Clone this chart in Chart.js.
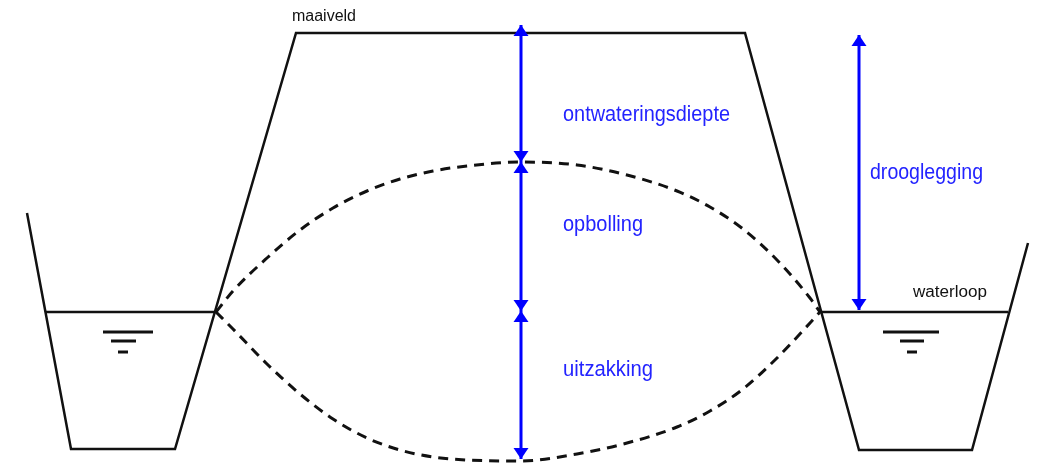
<!DOCTYPE html>
<html lang="nl">
<head>
    <meta charset="UTF-8">
    <title>Ontwateringsdiepte en drooglegging</title>
    <style>
        body { margin: 0; background: #fff; }
        #diagram { display: block; }
    </style>
    <script src="https://cdn.jsdelivr.net/npm/chart.js@4/dist/chart.umd.min.js"></script>
</head>
<body>
    <canvas id="diagram" width="1040" height="464"></canvas>
    <script>
        // profiel: sloot links, maaiveld, sloot rechts (x = afstand, y = diepte)
        const profielX = [27, 71, 175, 296, 745, 859, 972, 1028];
        const profielY = [213, 449, 449, 33, 33, 450, 450, 243];

        // waterpeil in beide sloten
        const peilLinksX = [45, 215];
        const peilRechtsX = [820, 1008];
        const peilY = 312;

        // peilsymbool (drie streepjes onder het peil)
        const symboolLinksX = [[103, 153], [111, 136], [118, 128]];
        const symboolRechtsX = [[883, 939], [900, 924], [907, 917]];
        const symboolY = [332, 341, 352];

        // grondwaterstand: opbolling (boven) en uitzakking (onder)
        const opbollingX = [216, 233, 267, 300, 333, 367, 400, 433, 467, 520, 577, 627, 677, 710, 743, 777, 810, 820];
        const opbollingY = [312, 291, 258, 230, 208, 191, 179, 171, 166, 162, 165, 175, 191, 207, 229, 260, 298, 312];
        const uitzakkingX = [216, 233, 267, 300, 333, 367, 400, 433, 467, 520, 577, 627, 677, 710, 743, 777, 810, 820];
        const uitzakkingY = [312, 329, 364, 394, 419, 438, 450, 457, 460, 461, 454, 443, 427, 411, 389, 358, 323, 312];

        // maatpijlen
        const pijlX = [521, 521, 521, 859];
        const pijlBoven = [25, 162, 311, 35];
        const pijlOnder = [162, 311, 459, 310];

        // teksten
        const labels = [
            { tekst: 'maaiveld', x: 292, y: 17, breedte: 64, size: 16, kleur: '#111' },
            { tekst: 'ontwateringsdiepte', x: 563, y: 115, breedte: 167, size: 22, kleur: '#2323ff' },
            { tekst: 'opbolling', x: 563, y: 225, breedte: 80, size: 22, kleur: '#2323ff' },
            { tekst: 'uitzakking', x: 563, y: 370, breedte: 90, size: 22, kleur: '#2323ff' },
            { tekst: 'drooglegging', x: 870, y: 173, breedte: 113, size: 22, kleur: '#2323ff' },
            { tekst: 'waterloop', x: 913, y: 293, breedte: 74, size: 16, kleur: '#111' }
        ];

        function punten(xs, ys) {
            return xs.map((x, i) => ({ x: x, y: Array.isArray(ys) ? ys[i] : ys }));
        }

        function lijn(data, extra) {
            return Object.assign({
                data: data,
                showLine: true,
                borderColor: '#111',
                borderWidth: 2.5,
                pointRadius: 0,
                fill: false
            }, extra || {});
        }

        const datasets = [];
        datasets.push(lijn(punten(profielX, profielY), { borderJoinStyle: 'miter' }));
        datasets.push(lijn(punten(peilLinksX, peilY)));
        datasets.push(lijn(punten(peilRechtsX, peilY)));
        symboolLinksX.forEach((xs, i) => datasets.push(lijn(punten(xs, symboolY[i]), { borderWidth: 3 })));
        symboolRechtsX.forEach((xs, i) => datasets.push(lijn(punten(xs, symboolY[i]), { borderWidth: 3 })));
        datasets.push(lijn(punten(opbollingX, opbollingY), { borderDash: [10, 7], borderWidth: 3, tension: 0.4, cubicInterpolationMode: 'monotone' }));
        datasets.push(lijn(punten(uitzakkingX, uitzakkingY), { borderDash: [10, 7], borderWidth: 3, tension: 0.4, cubicInterpolationMode: 'monotone' }));
        pijlX.forEach((x, i) => {
            datasets.push(lijn([{ x: x, y: pijlBoven[i] }, { x: x, y: pijlOnder[i] }], { borderColor: '#0000ff', borderWidth: 3, pijlpunten: true }));
        });

        const tekenPlugin = {
            id: 'tekenPlugin',
            afterDatasetsDraw(chart) {
                const ctx = chart.ctx;
                const sx = chart.scales.x, sy = chart.scales.y;

                function punt(tip, van) {
                    const tx = sx.getPixelForValue(tip.x), ty = sy.getPixelForValue(tip.y);
                    const fx = sx.getPixelForValue(van.x), fy = sy.getPixelForValue(van.y);
                    const len = Math.hypot(tx - fx, ty - fy) || 1;
                    const ux = (tx - fx) / len, uy = (ty - fy) / len;
                    const lang = 11, half = 7.5;
                    ctx.beginPath();
                    ctx.moveTo(tx, ty);
                    ctx.lineTo(tx - ux * lang - uy * half, ty - uy * lang + ux * half);
                    ctx.lineTo(tx - ux * lang + uy * half, ty - uy * lang - ux * half);
                    ctx.closePath();
                    ctx.fill();
                }

                ctx.save();
                chart.data.datasets.forEach(ds => {
                    if (!ds.pijlpunten) return;
                    ctx.fillStyle = ds.borderColor;
                    const d = ds.data;
                    punt(d[0], d[1]);
                    punt(d[d.length - 1], d[d.length - 2]);
                });

                labels.forEach(l => {
                    ctx.font = l.size + 'px "Liberation Sans", Arial, sans-serif';
                    ctx.fillStyle = l.kleur;
                    ctx.textBaseline = 'middle';
                    ctx.textAlign = 'left';
                    const w = ctx.measureText(l.tekst).width;
                    ctx.save();
                    ctx.translate(sx.getPixelForValue(l.x), sy.getPixelForValue(l.y));
                    ctx.scale(l.breedte / w, 1);
                    ctx.fillText(l.tekst, 0, 0);
                    ctx.restore();
                });
                ctx.restore();
            }
        };

        new Chart('diagram', {
            type: 'scatter',
            data: { datasets: datasets },
            options: {
                responsive: false,
                animation: false,
                layout: { padding: 0 },
                plugins: { legend: { display: false }, tooltip: { enabled: false } },
                scales: {
                    x: { type: 'linear', min: 0, max: 1040, display: false },
                    y: { type: 'linear', min: 0, max: 464, reverse: true, display: false }
                }
            },
            plugins: [tekenPlugin]
        });
    </script>
</body>
</html>
